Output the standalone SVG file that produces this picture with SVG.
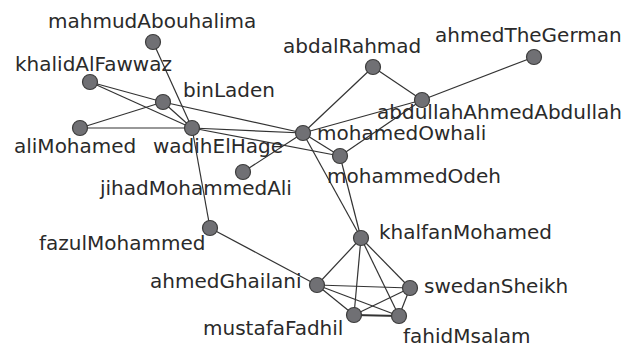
<svg xmlns="http://www.w3.org/2000/svg" width="635" height="347" viewBox="0 0 635 347">
<style>
.e{stroke:#333;stroke-width:1.2;fill:none}
.n circle{fill:#707074;stroke:#3c3c3c;stroke-width:1.2}
text{font-family:"DejaVu Sans",sans-serif;font-size:20px;fill:#2a2a2a}
</style>
<rect width="635" height="347" fill="#fff"/>
<g id="edges">
<line class="e" x1="153" y1="42" x2="192" y2="128"/>
<line class="e" x1="90" y1="82" x2="163" y2="102"/>
<line class="e" x1="90" y1="82" x2="192" y2="128"/>
<line class="e" x1="163" y1="102" x2="80" y2="128"/>
<line class="e" x1="163" y1="102" x2="192" y2="128"/>
<line class="e" x1="163" y1="102" x2="303" y2="133"/>
<line class="e" x1="80" y1="128" x2="192" y2="128"/>
<line class="e" x1="192" y1="128" x2="303" y2="133"/>
<line class="e" x1="192" y1="128" x2="340" y2="156"/>
<line class="e" x1="192" y1="128" x2="210" y2="228"/>
<line class="e" x1="303" y1="133" x2="243" y2="172"/>
<line class="e" x1="303" y1="133" x2="373" y2="67"/>
<line class="e" x1="303" y1="133" x2="422" y2="100"/>
<line class="e" x1="303" y1="133" x2="340" y2="156"/>
<line class="e" x1="303" y1="133" x2="361" y2="238"/>
<line class="e" x1="340" y1="156" x2="422" y2="100"/>
<line class="e" x1="340" y1="156" x2="361" y2="238"/>
<line class="e" x1="373" y1="67" x2="422" y2="100"/>
<line class="e" x1="422" y1="100" x2="534" y2="57"/>
<line class="e" x1="210" y1="228" x2="317" y2="285"/>
<line class="e" x1="361" y1="238" x2="317" y2="285"/>
<line class="e" x1="361" y1="238" x2="410" y2="288"/>
<line class="e" x1="361" y1="238" x2="354" y2="315"/>
<line class="e" x1="361" y1="238" x2="399" y2="316"/>
<line class="e" x1="317" y1="285" x2="410" y2="288"/>
<line class="e" x1="317" y1="285" x2="354" y2="315"/>
<line class="e" x1="317" y1="285" x2="399" y2="316"/>
<line class="e" x1="410" y1="288" x2="354" y2="315"/>
<line class="e" x1="410" y1="288" x2="399" y2="316"/>
<line class="e" x1="354" y1="315" x2="399" y2="316" style="stroke-width:1.8"/>
</g>
<g id="mahmudAbouhalima" class="n"><circle cx="153" cy="42" r="7.5"/><text x="48" y="28">mahmudAbouhalima</text></g>
<g id="khalidAlFawwaz" class="n"><circle cx="90" cy="82" r="7.5"/><text x="15" y="71">khalidAlFawwaz</text></g>
<g id="binLaden" class="n"><circle cx="163" cy="102" r="7.5"/><text x="183" y="97">binLaden</text></g>
<g id="aliMohamed" class="n"><circle cx="80" cy="128" r="7.5"/><text x="14" y="153">aliMohamed</text></g>
<g id="wadihElHage" class="n"><circle cx="192" cy="128" r="7.5"/><text x="153" y="153">wadihElHage</text></g>
<g id="jihadMohammedAli" class="n"><circle cx="243" cy="172" r="7.5"/><text x="100" y="195">jihadMohammedAli</text></g>
<g id="mohamedOwhali" class="n"><circle cx="303" cy="133" r="7.5"/><text x="317" y="140">mohamedOwhali</text></g>
<g id="mohammedOdeh" class="n"><circle cx="340" cy="156" r="7.5"/><text x="327" y="183">mohammedOdeh</text></g>
<g id="abdalRahmad" class="n"><circle cx="373" cy="67" r="7.5"/><text x="283" y="53">abdalRahmad</text></g>
<g id="abdullahAhmedAbdullah" class="n"><circle cx="422" cy="100" r="7.5"/><text x="377" y="119">abdullahAhmedAbdullah</text></g>
<g id="ahmedTheGerman" class="n"><circle cx="534" cy="57" r="7.5"/><text x="435" y="42">ahmedTheGerman</text></g>
<g id="fazulMohammed" class="n"><circle cx="210" cy="228" r="7.5"/><text x="39" y="250">fazulMohammed</text></g>
<g id="khalfanMohamed" class="n"><circle cx="361" cy="238" r="7.5"/><text x="379" y="239">khalfanMohamed</text></g>
<g id="ahmedGhailani" class="n"><circle cx="317" cy="285" r="7.5"/><text x="150" y="288">ahmedGhailani</text></g>
<g id="swedanSheikh" class="n"><circle cx="410" cy="288" r="7.5"/><text x="424" y="293">swedanSheikh</text></g>
<g id="mustafaFadhil" class="n"><circle cx="354" cy="315" r="7.5"/><text x="203" y="335">mustafaFadhil</text></g>
<g id="fahidMsalam" class="n"><circle cx="399" cy="316" r="7.5"/><text x="403" y="343">fahidMsalam</text></g>
</svg>
